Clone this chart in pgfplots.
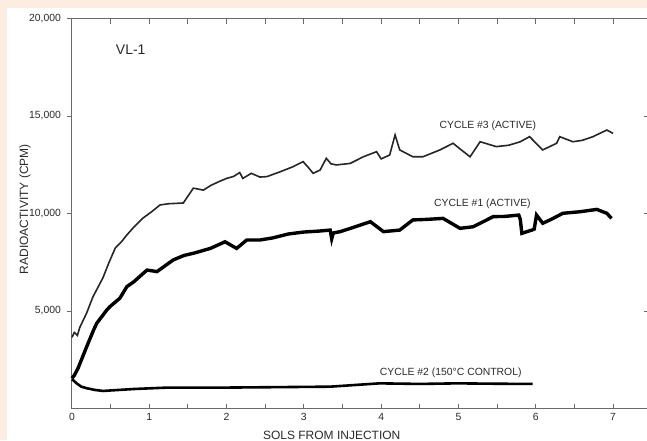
\documentclass[border=0pt]{standalone}
\usepackage{fontspec}
\setmainfont{Liberation Sans}
\usepackage{pgfplots}
\pgfplotsset{compat=1.18}
\definecolor{peach}{HTML}{FDEDE0}
\definecolor{ink}{HTML}{2A2A2A}
\definecolor{frame}{HTML}{6A6A6A}
\begin{document}
\begin{tikzpicture}
\useasboundingbox (-36pt,-15.75pt) rectangle (287.5pt,204.25pt);
\clip (-36pt,-15.75pt) rectangle (287.5pt,204.25pt);
\fill[peach] (-36pt,-15.75pt) rectangle (287.5pt,204.25pt);
\fill[white] (-32.5pt,-15.75pt) rectangle (287.5pt,200.25pt);
\begin{axis}[
  scale only axis, width=288.3pt, height=195pt,
  xmin=0, xmax=7.46, ymin=0, ymax=20000,
  axis line style={frame, line width=0.5pt},
  xtick={0,...,7}, minor xtick={0.5,1.5,...,6.5},
  xtick pos=both, xtick align=inside,
  ytick={5000,10000,15000,20000},
  yticklabels={{5,000},{10,000},{15,000},{20,000}},
  scaled y ticks=false,
  ytick pos=left, ytick align=outside,
  major tick length=2.5pt, minor tick length=2.5pt,
  every tick/.style={frame, line width=0.5pt},
  tick label style={font=\fontsize{5.2}{6}\selectfont, text=ink},
  xticklabel style={yshift=1pt},
  yticklabel style={xshift=0.5pt},
  /pgf/number format/assume math mode=true,
  clip=false,
]
% cycle 3 (active)
\addplot[black!85, line width=0.8pt] coordinates {
(0,3650) (0.03,3900) (0.07,3750) (0.10,4150) (0.19,4900) (0.27,5720) (0.40,6700)
(0.48,7500) (0.56,8230) (0.64,8550) (0.71,8900) (0.80,9300) (0.92,9770) (1.03,10090)
(1.14,10440) (1.25,10500) (1.35,10520) (1.44,10540) (1.57,11300) (1.70,11200)
(1.80,11450) (1.91,11650) (2.00,11800) (2.09,11900) (2.17,12100) (2.21,11800)
(2.32,12060) (2.43,11870) (2.52,11890) (2.70,12150) (2.86,12400) (2.99,12660)
(3.06,12350) (3.12,12060) (3.21,12230) (3.29,12830) (3.35,12550) (3.42,12490)
(3.60,12570) (3.77,12910) (3.94,13170) (4.00,12800) (4.11,13000) (4.18,14030)
(4.24,13260) (4.41,12910) (4.54,12910) (4.76,13260) (4.93,13600) (5.04,13250)
(5.15,12910) (5.28,13680) (5.49,13430) (5.65,13500) (5.80,13680) (5.92,13940)
(6.09,13260) (6.27,13600) (6.31,13940) (6.48,13680) (6.60,13750) (6.74,13940)
(6.85,14150) (6.92,14280) (7.00,14110)};
% cycle 1 (active)
\addplot[black, line width=1.7pt] coordinates {
(0,1550) (0.03,1700) (0.08,2080) (0.19,3170) (0.28,4030) (0.32,4370) (0.45,5050)
(0.49,5220) (0.62,5660) (0.71,6250) (0.80,6500) (0.97,7100) (1.10,7020) (1.31,7620)
(1.45,7850) (1.57,7960) (1.79,8210) (1.98,8550) (2.13,8210) (2.26,8640) (2.43,8640)
(2.60,8750) (2.80,8950) (3.00,9050) (3.20,9100) (3.34,9150) (3.36,8700) (3.38,9000)
(3.47,9070) (3.65,9300) (3.86,9580) (4.03,9070) (4.24,9150) (4.41,9670) (4.60,9700)
(4.80,9750) (5.02,9240) (5.19,9320) (5.45,9840) (5.60,9850) (5.78,9920) (5.80,9700)
(5.82,8980) (5.95,9150) (5.98,9200) (6.01,9920) (6.09,9500) (6.20,9700) (6.35,10010)
(6.57,10090) (6.79,10210) (6.92,10010) (6.98,9750)};
% cycle 2 (control)
\addplot[black, line width=1.3pt] coordinates {
(0,1500) (0.03,1400) (0.06,1290) (0.12,1120) (0.19,1040) (0.30,950) (0.40,900)
(0.60,950) (0.80,1000) (1.22,1070) (1.91,1070) (2.50,1090) (3.34,1120) (3.98,1290)
(4.50,1260) (4.98,1290) (5.50,1270) (5.96,1260)};
\draw[frame, line width=0.5pt] (axis cs:7.46,5000) -- ++(-2.5pt,0);
\draw[frame, line width=0.5pt] (axis cs:7.46,10000) -- ++(-2.5pt,0);
\draw[frame, line width=0.5pt] (axis cs:7.46,15000) -- ++(-2.5pt,0);
\node[font=\fontsize{7}{8}\selectfont, text=ink] at (axis cs:0.76,18380) {VL-1};
\node[font=\fontsize{5.2}{6}\selectfont, text=ink] at (axis cs:5.38,14510) {CYCLE \#3 (ACTIVE)};
\node[font=\fontsize{5.2}{6}\selectfont, text=ink] at (axis cs:5.31,10520) {CYCLE \#1 (ACTIVE)};
\node[font=\fontsize{5.2}{6}\selectfont, text=ink] at (axis cs:4.90,1840) {CYCLE \#2 (150°C CONTROL)};
\node[rotate=90, font=\fontsize{6}{7}\selectfont, text=ink] at ([xshift=-23.5pt]axis cs:0,10230) {RADIOACTIVITY (CPM)};
\node[anchor=north, font=\fontsize{6}{7}\selectfont, text=ink, inner sep=0pt] at ([yshift=-11.3pt]axis cs:3.36,0) {SOLS FROM INJECTION};
\end{axis}
\end{tikzpicture}
\end{document}
